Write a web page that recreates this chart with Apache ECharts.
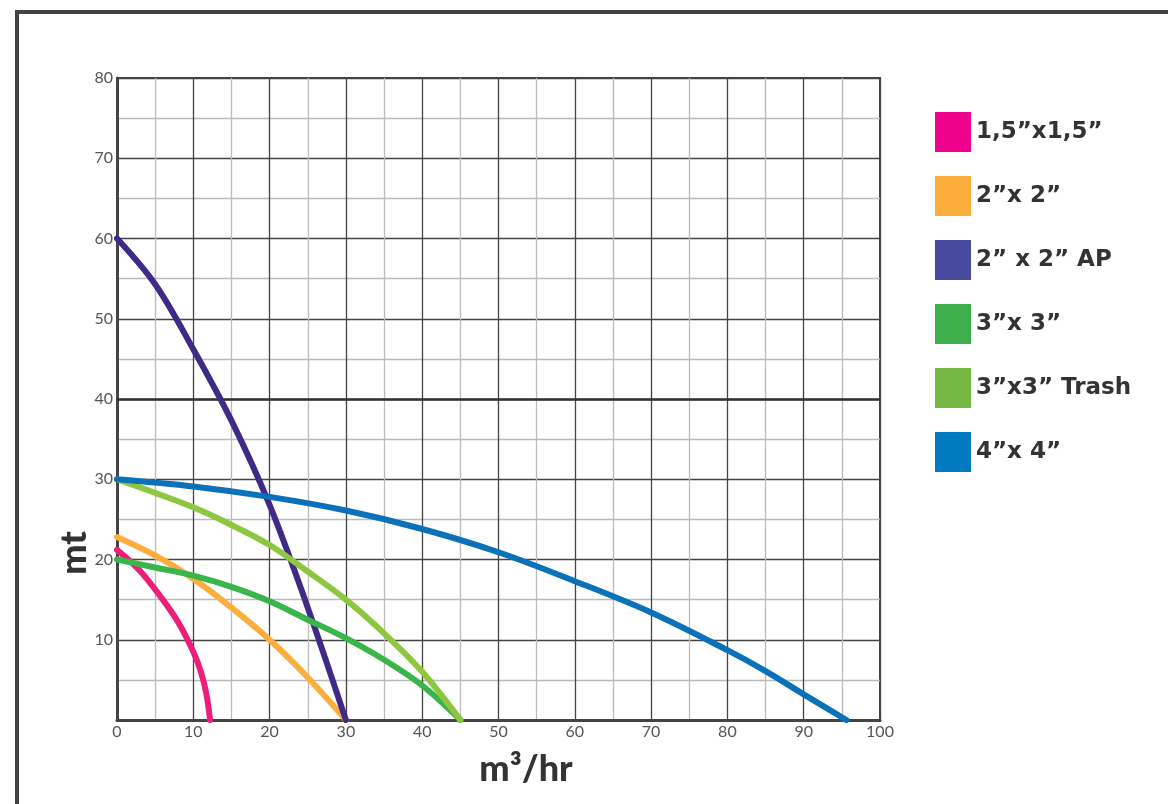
<!DOCTYPE html>
<html><head><meta charset="utf-8">
<script src="https://cdn.jsdelivr.net/npm/echarts@6/dist/echarts.min.js"></script>
<style>html,body{margin:0;padding:0;background:#fff}#c{width:1168px;height:804px}</style>
</head><body><div id="c"></div>
<script>
const seriesNames = ['1,5”x1,5”', '2”x 2”', '2” x 2” AP', '3”x 3”', '3”x3” Trash', '4”x 4”'];
const legendColors = ['#EC008C', '#FBAE3C', '#474A9E', '#3DAE49', '#74B843', '#0079C1'];
const lineColors = ['#ED1E79', '#FBAE3C', '#3F2A87', '#3AB54A', '#8DC63F', '#0B72BA'];
const pink = [[0,21.2],[3,18.6],[6,15],[8,12.2],[10,8.5],[11,6],[11.7,3.3],[12.2,0]];
const orange = [[0,22.8],[5,20.5],[10,17.6],[15,14],[20,10],[25,5.3],[30,0]];
const purple = [[0,60],[5,54.3],[10,46.2],[15,37.3],[20,26.8],[25,14],[30,0]];
const green = [[0,20],[5,19],[10,18],[15,16.6],[20,14.8],[25,12.5],[30,10.2],[35,7.5],[40,4.3],[45,0]];
const trash = [[0,30],[5,28.3],[10,26.5],[15,24.3],[20,21.8],[25,18.5],[30,15],[35,10.8],[40,6],[45,0]];
const blue = [[0,30],[10,29.1],[20,27.8],[30,26.1],[40,23.8],[50,20.9],[60,17.3],[70,13.4],[80,8.7],[85,6.1],[90,3.2],[95.6,0]];
const allData = [pink, orange, purple, green, trash, blue];

const chart = echarts.init(document.getElementById('c'));
const series = allData.map((d, i) => ({
  name: seriesNames[i], type: 'line', data: d, smooth: 0.35, showSymbol: false, symbol: 'none',
  itemStyle: { color: legendColors[i] },
  lineStyle: { color: lineColors[i], width: 6, cap: 'round', join: 'round' },
  z: 3
}));
series[0].markLine = {
  silent: true, symbol: 'none', label: { show: false },
  lineStyle: { color: '#333', width: 2.5, type: 'solid' },
  data: [{ yAxis: 40 }], z: 1
};
chart.setOption({
  animation: false,
  backgroundColor: '#fff',
  grid: { left: 117, right: 288, top: 78, bottom: 84, show: true, borderColor: '#444', borderWidth: 2 },
  xAxis: {
    type: 'value', min: 0, max: 100, interval: 10,
    axisLine: { show: true, lineStyle: { color: '#444', width: 3 } },
    axisTick: { show: false },
    axisLabel: { color: '#555', fontSize: 16, fontFamily: 'Lato', margin: 4 },
    splitLine: { show: true, lineStyle: { color: '#444', width: 1.3 } },
    minorTick: { show: false, splitNumber: 2 },
    minorSplitLine: { show: true, lineStyle: { color: '#bbb', width: 1.3 } }
  },
  yAxis: {
    type: 'value', min: 0, max: 80, interval: 10,
    axisLine: { show: true, lineStyle: { color: '#444', width: 3 } },
    axisTick: { show: false },
    axisLabel: { color: '#555', fontSize: 16, fontFamily: 'Lato', margin: 4,
      formatter: v => v === 0 ? '' : String(v) },
    splitLine: { show: true, lineStyle: { color: '#444', width: 1.3 } },
    minorTick: { show: false, splitNumber: 2 },
    minorSplitLine: { show: true, lineStyle: { color: '#bbb', width: 1.3 } }
  },
  legend: {
    orient: 'vertical', left: 930, top: 107, itemWidth: 36, itemHeight: 40, itemGap: 24,
    icon: 'rect',
    data: seriesNames.map((n, i) => ({ name: n, itemStyle: { color: legendColors[i] } })),
    textStyle: { color: '#333', fontSize: 23, fontWeight: 'bold', fontFamily: 'DejaVu Sans' }
  },
  graphic: [
    { type: 'rect', shape: { x: 17, y: 12, width: 1300, height: 900 }, style: { fill: 'none', stroke: '#444', lineWidth: 4 }, silent: true },
    { type: 'text', x: 74, y: 553, rotation: Math.PI / 2,
      style: { text: 'mt', fill: '#333', fontSize: 36, fontWeight: 900, fontFamily: 'Lato', align: 'center', verticalAlign: 'middle' } },
    { type: 'text', x: 526, y: 769,
      style: { text: 'm³/hr', fill: '#333', fontSize: 36, fontWeight: 900, fontFamily: 'Lato', align: 'center', verticalAlign: 'middle' } }
  ],
  series: series
});
</script></body></html>
